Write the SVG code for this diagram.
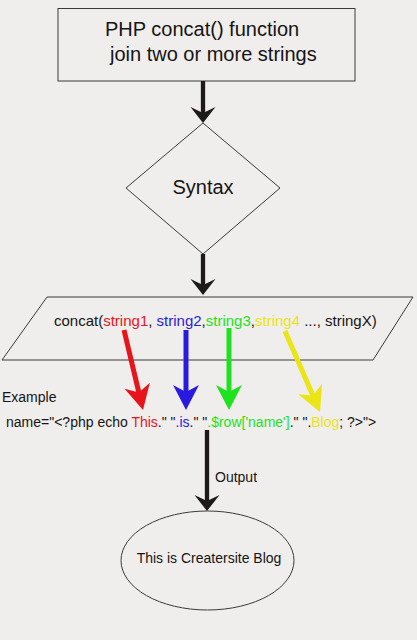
<svg xmlns="http://www.w3.org/2000/svg" width="417" height="640" viewBox="0 0 417 640">
<style>
text{font-family:"Liberation Sans",Arial,sans-serif;fill:#161414}
.shape{fill:none;stroke:#3a3a3a;stroke-width:1}
.blk{stroke:#1e1a19;stroke-width:4.3;fill:none}
.r{fill:#e8141c}.b{fill:#2a1ae0}.g{fill:#1ee21e}.y{fill:#ebe417}
</style>
<defs>
<marker id="ah" markerUnits="userSpaceOnUse" viewBox="-17 -13 18 26" refX="-10" refY="0" markerWidth="18" markerHeight="26" orient="auto" overflow="visible">
<path d="M0,0 L-16,-12.5 L-10,0 L-16,12.5 Z" fill="#1e1a19"/>
</marker>
<marker id="ar" markerUnits="userSpaceOnUse" viewBox="-26 -14 27 28" refX="-16" refY="0" markerWidth="27" markerHeight="28" orient="auto" overflow="visible">
<path d="M0,0 L-25,-13 L-18,0 L-25,13 Z" fill="#e8141c"/>
</marker>
<marker id="ab" markerUnits="userSpaceOnUse" viewBox="-26 -14 27 28" refX="-16" refY="0" markerWidth="27" markerHeight="28" orient="auto" overflow="visible">
<path d="M0,0 L-25,-13 L-18,0 L-25,13 Z" fill="#2a1ae0"/>
</marker>
<marker id="ag" markerUnits="userSpaceOnUse" viewBox="-26 -14 27 28" refX="-16" refY="0" markerWidth="27" markerHeight="28" orient="auto" overflow="visible">
<path d="M0,0 L-25,-13 L-18,0 L-25,13 Z" fill="#1ee21e"/>
</marker>
<marker id="ay" markerUnits="userSpaceOnUse" viewBox="-26 -14 27 28" refX="-16" refY="0" markerWidth="27" markerHeight="28" orient="auto" overflow="visible">
<path d="M0,0 L-25,-13 L-18,0 L-25,13 Z" fill="#ebe417"/>
</marker>
</defs>
<rect width="417" height="640" fill="#efeeec"/>

<g id="title">
<rect x="58" y="8.5" width="297" height="72.5" class="shape" stroke="#555"/>
<text x="105" y="36" font-size="20">PHP concat() function</text>
<text x="110" y="61" font-size="20">join two or more strings</text>
</g>

<g id="syntax">
<polygon points="203,123 280,188 203,254 126,188" class="shape"/>
<text x="203" y="194" font-size="20" text-anchor="middle">Syntax</text>
</g>

<g id="concat">
<polygon points="47,297 413,297 373,360 2,360" class="shape"/>
<text x="54" y="326" font-size="15">concat(<tspan class="r">string1</tspan>, <tspan class="b">string2</tspan>,<tspan class="g">string3</tspan>,<tspan class="y">string4</tspan> ..., stringX)</text>
</g>

<g id="example">
<text x="2" y="402" font-size="14">Example</text>
<text x="6" y="427" font-size="14">name="&lt;?php echo <tspan class="r">This</tspan>." "<tspan class="b">.is</tspan>." "<tspan class="g">.$row['name']</tspan>." ".<tspan class="y">Blog</tspan>; ?&gt;"&gt;</text>
</g>

<g id="output">
<ellipse cx="207.5" cy="560.5" rx="86.5" ry="49.5" class="shape"/>
<text x="209" y="563" font-size="14" text-anchor="middle">This is Creatersite Blog</text>
</g>

<g id="connectors">
<line x1="203" y1="81" x2="203" y2="113" class="blk" marker-end="url(#ah)"/>
<line x1="203" y1="254" x2="203" y2="285" class="blk" marker-end="url(#ah)"/>
<line x1="207" y1="430" x2="207" y2="501" class="blk" marker-end="url(#ah)"/>
<text x="215" y="482" font-size="14">Output</text>
<line x1="124" y1="330" x2="139.3" y2="394.4" stroke="#e8141c" stroke-width="5" marker-end="url(#ar)"/>
<line x1="186" y1="330" x2="186" y2="394" stroke="#2a1ae0" stroke-width="5" marker-end="url(#ab)"/>
<line x1="229" y1="328" x2="229" y2="394" stroke="#1ee21e" stroke-width="5" marker-end="url(#ag)"/>
<line x1="285" y1="331" x2="313.65" y2="397.3" stroke="#ebe417" stroke-width="5" marker-end="url(#ay)"/>
</g>
</svg>
